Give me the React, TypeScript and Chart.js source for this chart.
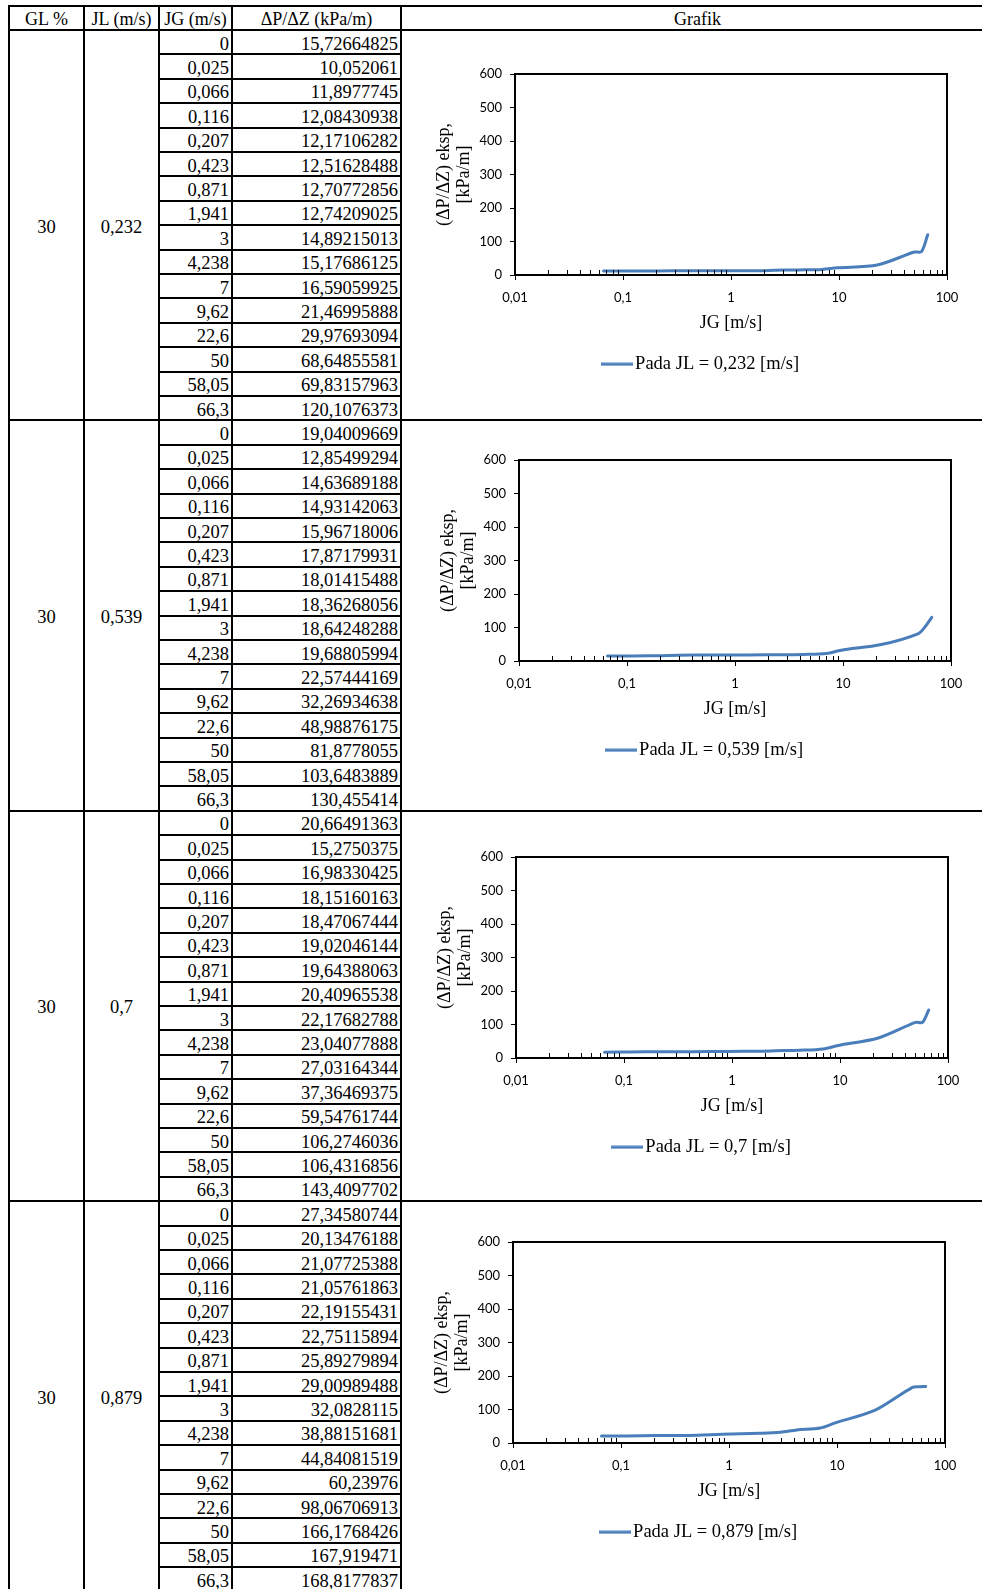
import React, { useEffect, useRef } from 'react';
import { Chart, registerables } from 'chart.js';

Chart.register(...registerables);

// ---- table data ----
const HEADERS = ['GL %', 'JL (m/s)', 'JG (m/s)', 'ΔP/ΔZ (kPa/m)', 'Grafik'];
const GL_PERCENT = [30, 30, 30, 30];
const JL_VALUES = [0.232, 0.539, 0.7, 0.879];
const JG_VALUES = [0, 0.025, 0.066, 0.116, 0.207, 0.423, 0.871, 1.941, 3, 4.238, 7, 9.62, 22.6, 50, 58.05, 66.3];

const DP_JL_0232 = [15.72664825, 10.052061, 11.8977745, 12.08430938, 12.17106282, 12.51628488, 12.70772856, 12.74209025, 14.89215013, 15.17686125, 16.59059925, 21.46995888, 29.97693094, 68.64855581, 69.83157963, 120.1076373];
const DP_JL_0539 = [19.04009669, 12.85499294, 14.63689188, 14.93142063, 15.96718006, 17.87179931, 18.01415488, 18.36268056, 18.64248288, 19.68805994, 22.57444169, 32.26934638, 48.98876175, 81.8778055, 103.6483889, 130.455414];
const DP_JL_07 = [20.66491363, 15.2750375, 16.98330425, 18.15160163, 18.47067444, 19.02046144, 19.64388063, 20.40965538, 22.17682788, 23.04077888, 27.03164344, 37.36469375, 59.54761744, 106.2746036, 106.4316856, 143.4097702];
const DP_JL_0879 = [27.34580744, 20.13476188, 21.07725388, 21.05761863, 22.19155431, 22.75115894, 25.89279894, 29.00989488, 32.0828115, 38.88151681, 44.84081519, 60.23976, 98.06706913, 166.1768426, 167.919471, 168.8177837];
const DP_SERIES = [DP_JL_0232, DP_JL_0539, DP_JL_07, DP_JL_0879];

// ---- chart axes ----
const X_MIN = 0.01;
const X_MAX = 100;
const Y_MIN = 0;
const Y_MAX = 600;
const Y_STEP = 100;
const X_TITLE = 'JG [m/s]';
const Y_TITLE = ['(ΔP/ΔZ) eksp,', '[kPa/m]'];
// JG = 0 cannot sit on a log axis; the plotted series starts at JG = 0,066
const FIRST_PLOTTED_ROW = 2;

// ---- layout ----
const SERIF = "'Liberation Serif', 'Times New Roman', serif";
const SANS = "Lato, 'Liberation Sans', sans-serif";
const LINE_COLOR = '#4A7EBB';
const PAGE_W = 982;
const PAGE_H = 1589;
const ROW_H = 24.4;
const TOP_LINE = 6;
const BODY_TOP = 30;
const COL_X = [9, 84, 159, 232, 401];
const BLOCK_ROWS = 16;

const PLOT_POS = [
  { left: 515, top: 74 },
  { left: 519, top: 460 },
  { left: 516, top: 857 },
  { left: 513, top: 1242 },
];
const Y_AXIS_W = 81;
const RIGHT_GUTTER_W = 26;
const X_AXIS_H = 70;
const PAD_TOP = 24;
const PAD_RIGHT = 4;
const PAD_BOTTOM = 2.5;
const PLOT_W = 432;
const PLOT_H = 201;
const LEGEND_FONT = 18.5;
const LEGEND_PAD = 10;
const LEGEND_H = LEGEND_FONT + LEGEND_PAD + 10;
const CANVAS_W = Y_AXIS_W + PLOT_W + RIGHT_GUTTER_W + PAD_RIGHT;
const CANVAS_H = PAD_TOP + PLOT_H + X_AXIS_H + LEGEND_H + PAD_BOTTOM;

const fmt = (v: number) => String(v).replace('.', ',');

const isDecade = (v: number) => {
  const l = Math.log10(v);
  return Math.abs(l - Math.round(l)) < 1e-6;
};

// frame around the plot area plus log-axis tick marks (decades outside, minor inside)
const plotFramePlugin = {
  id: 'plotFrame',
  afterDraw(chart: any) {
    const { ctx, chartArea: a, scales } = chart;
    const xs = scales.x;
    ctx.save();
    ctx.strokeStyle = '#000';
    ctx.lineWidth = 1;
    ctx.beginPath();
    xs.ticks.forEach((t: any) => {
      const v = t.value;
      const e = Math.floor(Math.log10(v) + 1e-9);
      const m = v / Math.pow(10, e);
      if (Math.abs(m - Math.round(m)) > 1e-6) return;
      const px = Math.round(xs.getPixelForValue(v)) + 0.5;
      if (isDecade(v)) {
        ctx.moveTo(px, a.bottom);
        ctx.lineTo(px, a.bottom + 5);
      } else {
        ctx.moveTo(px, a.bottom);
        ctx.lineTo(px, a.bottom - 5);
      }
    });
    ctx.stroke();
    ctx.lineWidth = 2;
    ctx.strokeRect(a.left, a.top, a.right - a.left, a.bottom - a.top);
    ctx.restore();
  },
};

function makeLegendLine() {
  const c = document.createElement('canvas');
  c.width = 32;
  c.height = 4;
  const g = c.getContext('2d')!;
  g.fillStyle = LINE_COLOR;
  g.fillRect(0, 0.5, 32, 3);
  return c;
}

function ChartPanel({ index }: { index: number }) {
  const ref = useRef<HTMLCanvasElement>(null);

  useEffect(() => {
    const canvas = ref.current;
    if (!canvas) return;
    const series = DP_SERIES[index];
    const points = JG_VALUES.slice(FIRST_PLOTTED_ROW).map((x, i) => ({
      x,
      y: series[i + FIRST_PLOTTED_ROW],
    }));
    const tickFont = { family: SANS, size: 13 };
    const chart = new Chart(canvas, {
      type: 'line',
      data: {
        datasets: [
          {
            label: `Pada JL = ${fmt(JL_VALUES[index])} [m/s]`,
            data: points,
            borderColor: LINE_COLOR,
            backgroundColor: LINE_COLOR,
            borderWidth: 3,
            pointRadius: 0,
            tension: 0.3,
            fill: false,
            borderCapStyle: 'round',
            borderJoinStyle: 'round',
          },
        ],
      },
      options: {
        responsive: false,
        animation: false,
        devicePixelRatio: 1,
        layout: {
          autoPadding: false,
          padding: { left: 0, right: PAD_RIGHT, top: PAD_TOP, bottom: PAD_BOTTOM },
        },
        plugins: {
          tooltip: { enabled: false },
          legend: {
            position: 'bottom',
            labels: {
              usePointStyle: true,
              pointStyle: makeLegendLine(),
              pointStyleWidth: 18,
              padding: LEGEND_PAD,
              color: '#000',
              font: { family: SERIF, size: LEGEND_FONT },
            },
          },
        },
        scales: {
          x: {
            type: 'logarithmic',
            min: X_MIN,
            max: X_MAX,
            grid: { display: false, drawTicks: false },
            border: { display: false },
            ticks: {
              autoSkip: false,
              maxRotation: 0,
              minRotation: 0,
              padding: 15,
              color: '#000',
              font: tickFont,
              callback: (v: any) => (isDecade(Number(v)) ? fmt(Number(v)) : ''),
            },
            title: {
              display: true,
              text: X_TITLE,
              color: '#000',
              font: { family: SERIF, size: 18 },
              padding: { top: 0, bottom: 11.2 },
            },
            afterFit: (s: any) => {
              s.height = X_AXIS_H;
            },
          },
          y: {
            min: Y_MIN,
            max: Y_MAX,
            grid: {
              drawOnChartArea: false,
              drawTicks: true,
              tickLength: 5,
              tickColor: '#000',
              color: '#000',
            },
            border: { display: false },
            ticks: { stepSize: Y_STEP, padding: 8, color: '#000', font: tickFont },
            title: {
              display: true,
              text: Y_TITLE,
              color: '#000',
              font: { family: SERIF, size: 18, lineHeight: 1.12 },
              padding: 0,
            },
            afterFit: (s: any) => {
              s.width = Y_AXIS_W;
            },
          },
          // empty gutter on the right of the plot
          gutter: {
            type: 'linear',
            position: 'right',
            display: true,
            grid: { display: false, drawTicks: false },
            border: { display: false },
            ticks: { display: false },
            afterFit: (s: any) => {
              s.width = RIGHT_GUTTER_W;
            },
          },
        },
      } as any,
      plugins: [plotFramePlugin],
    });
    return () => chart.destroy();
  }, [index]);

  const pos = PLOT_POS[index];
  return (
    <canvas
      ref={ref}
      width={CANVAS_W}
      height={CANVAS_H}
      style={{
        position: 'absolute',
        left: pos.left - Y_AXIS_W,
        top: pos.top - PAD_TOP,
        width: CANVAS_W,
        height: CANVAS_H,
      }}
    />
  );
}

const hLine = (x1: number, x2: number, y: number, key: string) => (
  <div
    key={key}
    style={{ position: 'absolute', left: x1 - 1, top: Math.round(y - 1), width: x2 - x1 + 2, height: 2, background: '#000' }}
  />
);
const vLine = (x: number, y1: number, y2: number, key: string) => (
  <div
    key={key}
    style={{ position: 'absolute', left: x - 1, top: Math.round(y1 - 1), width: 2, height: y2 - y1 + 2, background: '#000' }}
  />
);

const textCell = (
  key: string,
  x1: number,
  x2: number,
  y1: number,
  y2: number,
  text: string,
  align: 'center' | 'right',
  size: number
) => (
  <div
    key={key}
    style={{
      position: 'absolute',
      left: x1 + 1,
      width: x2 - x1 - 2,
      top: y1 + 2,
      height: y2 - y1,
      display: 'flex',
      alignItems: 'center',
      justifyContent: align === 'right' ? 'flex-end' : 'center',
      paddingRight: align === 'right' ? 2 : 0,
      boxSizing: 'border-box',
      fontSize: size,
      whiteSpace: 'nowrap',
      color: '#000',
    }}
  >
    {text}
  </div>
);

export default function App() {
  const els: React.ReactNode[] = [];
  const rightEdge = 994;

  // header
  els.push(hLine(COL_X[0], PAGE_W, TOP_LINE, 'top'));
  els.push(hLine(COL_X[0], PAGE_W, BODY_TOP, 'head-bottom'));
  const headerCols = [...COL_X, rightEdge];
  HEADERS.forEach((h, i) => {
    els.push(textCell(`h${i}`, headerCols[i], headerCols[i + 1], TOP_LINE, BODY_TOP - 1, h, 'center', 18));
  });

  // blocks
  DP_SERIES.forEach((series, b) => {
    const blockTop = BODY_TOP + b * BLOCK_ROWS * ROW_H;
    const blockBottom = blockTop + BLOCK_ROWS * ROW_H;
    els.push(hLine(COL_X[0], PAGE_W, blockBottom, `b${b}`));
    els.push(textCell(`gl${b}`, COL_X[0], COL_X[1], blockTop, blockBottom, String(GL_PERCENT[b]), 'center', 18.5));
    els.push(textCell(`jl${b}`, COL_X[1], COL_X[2], blockTop, blockBottom, fmt(JL_VALUES[b]), 'center', 18.5));
    JG_VALUES.forEach((jg, r) => {
      const y1 = blockTop + r * ROW_H;
      const y2 = y1 + ROW_H;
      if (r < BLOCK_ROWS - 1) els.push(hLine(COL_X[2], COL_X[4], y2, `r${b}-${r}`));
      els.push(textCell(`jg${b}-${r}`, COL_X[2], COL_X[3], y1, y2, fmt(jg), 'right', 18.5));
      els.push(textCell(`dp${b}-${r}`, COL_X[3], COL_X[4], y1, y2, fmt(series[r]), 'right', 18.5));
    });
  });

  // column rules
  COL_X.forEach((x, i) => els.push(vLine(x, TOP_LINE, PAGE_H, `v${i}`)));

  return (
    <div
      style={{
        position: 'absolute',
        left: 0,
        top: 0,
        width: PAGE_W,
        height: PAGE_H,
        overflow: 'hidden',
        background: '#fff',
        fontFamily: SERIF,
      }}
    >
      {els}
      {DP_SERIES.map((_, i) => (
        <ChartPanel key={i} index={i} />
      ))}
    </div>
  );
}
